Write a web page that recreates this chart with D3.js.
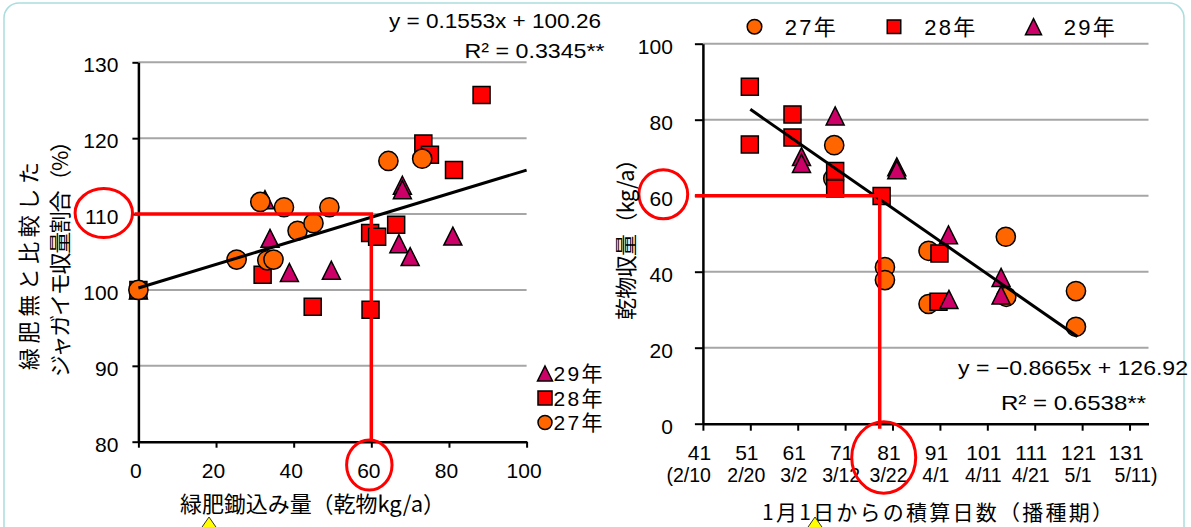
<!DOCTYPE html>
<html>
<head>
<meta charset="utf-8">
<script src="https://cdnjs.cloudflare.com/ajax/libs/d3/7.8.5/d3.min.js"></script>
<style>
body { margin: 0; background: #fff; }
svg { display: block; }
text { font-family: "Liberation Sans", "Noto Sans CJK JP", sans-serif; fill: #000; }
text.jp { font-family: "Noto Sans CJK JP", sans-serif; }
</style>
</head>
<body>
<svg id="chart" width="1191" height="527"></svg>
<script>
// left panel: 緑肥鋤込み量 vs 収量割合
var leftXTicks = [0, 20, 40, 60, 80, 100];
var leftYTicks = [80, 90, 100, 110, 120, 130];
var left27 = [[0, 100], [25.3, 104.0], [31.4, 111.6], [33.2, 103.9], [34.8, 104.0], [37.5, 110.9],
    [41.0, 107.8], [45.1, 108.8], [49.2, 110.9], [64.4, 117.0], [73.1, 117.3]];
var left28 = [[0, 100], [32.0, 102.0], [44.9, 97.8], [59.7, 107.5], [61.5, 107.0], [59.8, 97.4],
    [66.4, 108.6], [73.4, 119.3], [75.1, 117.8], [81.3, 115.8], [88.4, 125.7]];
var left29 = [[0, 100], [32.6, 111.9], [33.9, 106.8], [38.9, 102.3], [49.7, 102.6], [67.1, 106.1],
    [68.0, 113.8], [68.0, 113.2], [70.0, 104.4], [81.0, 107.1]];
var leftFit = [0.1553, 100.26];      // slope, intercept
var leftFitRange = [0, 100];
var leftGuide = [60, 110];

// right panel: 播種期 vs 乾物収量
var rightXTicks = [41, 51, 61, 71, 81, 91, 101, 111, 121, 131];
var rightDates = ["(2/10", "2/20", "3/2", "3/12", "3/22", "4/1", "4/11", "4/21", "5/1", "5/11)"];
var rightYTicks = [0, 20, 40, 60, 80, 100];
var right27 = [[68.7, 73.3], [68.5, 64.5], [79.4, 41.2], [79.4, 37.8], [88.6, 45.5], [88.6, 31.5],
    [104.9, 49.2], [105.0, 33.4], [119.7, 34.9], [119.7, 25.5]];
var right28 = [[50.9, 88.7], [50.9, 73.5], [59.9, 81.4], [59.9, 75.3], [68.9, 66.5], [68.9, 61.9],
    [78.7, 59.9], [90.9, 44.8], [90.7, 32.1]];
var right29 = [[61.8, 70.3], [61.8, 68.5], [68.9, 81.0], [81.9, 67.6], [81.9, 66.8], [92.8, 49.7],
    [92.9, 32.7], [103.9, 38.5], [103.9, 33.9]];
var rightFit = [-0.8665, 126.92];
var rightFitRange = [51, 120];
var rightGuide = [78.3, 60];

var years = ["27年", "28年", "29年"];
var colors = ["#ff6600", "#ff0000", "#cc0066"];

var svg = d3.select("#chart");

var xL = d3.scaleLinear().domain([0, 100]).range([138.4, 526.6]);
var yL = d3.scaleLinear().domain([80, 130]).range([441.7, 62.3]);
var xR = d3.scaleLinear().domain([41, 135]).range([702.9, 1148.5]);
var yR = d3.scaleLinear().domain([0, 100]).range([423.7, 43.7]);

// excel style triangle, as tall as wide
var triangle = {
    draw: function(context, size) {
        var w = Math.sqrt(size);
        context.moveTo(0, -w / 2);
        context.lineTo(w / 2, w / 2);
        context.lineTo(-w / 2, w / 2);
        context.closePath();
    }
};
var shapes = [d3.symbolCircle, d3.symbolSquare, triangle];

// panel frame
svg.append("rect")
    .attr("x", 4).attr("y", 3)
    .attr("width", 1180).attr("height", 600)
    .attr("rx", 15)
    .attr("fill", "none")
    .attr("stroke", "#aadddd")
    .attr("stroke-width", 1.5);

function grid(ys, ticks, xs) {
    svg.append("g").selectAll("line")
        .data(ticks.slice(1)).enter()
        .append("line")
        .attr("x1", xs.range()[0]).attr("x2", xs.range()[1])
        .attr("y1", function(d) { return ys(d); })
        .attr("y2", function(d) { return ys(d); })
        .attr("stroke", "#a6a6a6")
        .attr("stroke-width", 2);
}

function styleAxis(g, fontSize) {
    g.attr("font-family", null).attr("font-size", null);
    g.select(".domain").attr("stroke", "#000").attr("stroke-width", 2.5);
    g.selectAll(".tick line").attr("stroke", "#000").attr("stroke-width", 2);
    g.selectAll(".tick text").attr("font-size", fontSize).attr("fill", "#000");
}

grid(yL, leftYTicks, xL);
grid(yR, rightYTicks, xR);

svg.append("g")
    .attr("transform", "translate(" + xL.range()[0] + ",0)")
    .call(d3.axisLeft(yL).tickValues(leftYTicks).tickSize(6).tickSizeOuter(0).tickPadding(14))
    .call(styleAxis, 21)
    .selectAll(".tick text").attr("dy", "0.45em");

svg.append("g")
    .attr("transform", "translate(0," + yL.range()[0] + ")")
    .call(d3.axisBottom(xL).tickValues(leftXTicks).tickSize(6).tickSizeOuter(0).tickPadding(15))
    .call(styleAxis, 21)
    .selectAll(".tick text").attr("dx", -3);

svg.append("g")
    .attr("transform", "translate(" + xR.range()[0] + ",0)")
    .call(d3.axisLeft(yR).tickValues(rightYTicks).tickSize(8).tickSizeOuter(0).tickPadding(22))
    .call(styleAxis, 21)
    .selectAll(".tick text").attr("dy", "0.45em");

svg.append("g")
    .attr("transform", "translate(0," + yR.range()[0] + ")")
    .call(d3.axisBottom(xR).tickValues(rightXTicks).tickSize(7).tickSizeOuter(0).tickPadding(14))
    .call(styleAxis, 21)
    .selectAll(".tick text").attr("dx", -4);

// second row of the date axis
svg.append("g").selectAll("text")
    .data(rightDates).enter()
    .append("text")
    .attr("x", function(d, i) {
        var x = xR(rightXTicks[i]);
        if (i === 0) return x + 8;
        if (i === rightDates.length - 1) return x - 15;
        return x - 4;
    })
    .attr("y", 481.5)
    .attr("font-size", 19.5)
    .attr("text-anchor", function(d, i) {
        return i === 0 ? "end" : i === rightDates.length - 1 ? "start" : "middle";
    })
    .text(function(d) { return d; });

function series(data, k, size, xs, ys) {
    svg.append("g").selectAll("path")
        .data(data).enter()
        .append("path")
        .attr("transform", function(d) { return "translate(" + xs(d[0]) + "," + ys(d[1]) + ")"; })
        .attr("d", d3.symbol().type(shapes[k]).size(size[k]))
        .attr("fill", colors[k])
        .attr("stroke", "#000")
        .attr("stroke-width", 1.5);
}

var plotSize = [Math.PI * 9.6 * 9.6, 17 * 17, 18 * 18];

// left: 29 under 28 under 27
series(left29, 2, plotSize, xL, yL);
series(left28, 1, plotSize, xL, yL);
series(left27, 0, plotSize, xL, yL);
// right: 27 under 28 under 29
series(right27, 0, plotSize, xR, yR);
series(right28, 1, plotSize, xR, yR);
series(right29, 2, plotSize, xR, yR);

function fitLine(coef, range, xs, ys) {
    var line = d3.line()
        .x(function(d) { return xs(d); })
        .y(function(d) { return ys(coef[0] * d + coef[1]); });
    svg.append("path")
        .attr("d", line(range))
        .attr("fill", "none")
        .attr("stroke", "#000")
        .attr("stroke-width", 3);
}
fitLine(leftFit, leftFitRange, xL, yL);
fitLine(rightFit, rightFitRange, xR, yR);

// red guide lines
function guide(g, xs, ys, x0, yEnd) {
    svg.append("path")
        .attr("d", "M" + x0 + "," + ys(g[1]) + "H" + xs(g[0]) + "V" + yEnd)
        .attr("fill", "none")
        .attr("stroke", "#ff0000")
        .attr("stroke-width", 3.5);
}
guide(leftGuide, xL, yL, xL.range()[0] - 4, yL.range()[0] - 1);
guide(rightGuide, xR, yR, xR.range()[0] - 8, yR.range()[0] + 5);

function ring(cx, cy, rx, ry) {
    svg.append("ellipse")
        .attr("cx", cx).attr("cy", cy)
        .attr("rx", rx).attr("ry", ry)
        .attr("fill", "none")
        .attr("stroke", "#ff0000")
        .attr("stroke-width", 3);
}
ring(xL(0) - 34.6, yL(110) - 1, 28.7, 24.5);
ring(xL(60) - 2, yL.range()[0] + 23.3, 22.7, 25);
ring(xR.range()[0] - 39.6, yR(60) - 1.4, 24.4, 24.5);
ring(xR(81) - 8.8, yR.range()[0] + 33.8, 32, 35.8);

// legends
var legendLeft = svg.append("g");
[2, 1, 0].forEach(function(k, i) {
    var y = 373.5 + i * 24.5;
    legendLeft.append("path")
        .attr("transform", "translate(545," + y + ")")
        .attr("d", d3.symbol().type(shapes[k]).size([Math.PI * 7 * 7, 14 * 14, 15 * 15][k]))
        .attr("fill", colors[k])
        .attr("stroke", "#000")
        .attr("stroke-width", 1.5);
    legendLeft.append("text")
        .attr("x", 553.6).attr("y", y + 7.5)
        .attr("font-size", 21)
        .attr("textLength", 49)
        .text(years[k]);
});

var legendRight = svg.append("g");
[0, 1, 2].forEach(function(k) {
    var x = 754.5 + k * 139.5;
    legendRight.append("path")
        .attr("transform", "translate(" + x + ",26.7)")
        .attr("d", d3.symbol().type(shapes[k]).size([Math.PI * 7.3 * 7.3, 13.5 * 13.5, 16 * 16][k]))
        .attr("fill", colors[k])
        .attr("stroke", "#000")
        .attr("stroke-width", 1.5);
    legendRight.append("text")
        .attr("x", x + 30.2).attr("y", 34.5)
        .attr("font-size", 22)
        .attr("textLength", 51)
        .text(years[k]);
});

// equations
function label(x, y, str, len, size, cls) {
    return svg.append("text")
        .attr("class", cls || null)
        .attr("x", x).attr("y", y)
        .attr("font-size", size)
        .attr("textLength", len)
        .attr("lengthAdjust", "spacingAndGlyphs")
        .text(str);
}
label(389, 28.3, "y = 0.1553x + 100.26", 212, 21);
label(464.6, 58.3, "R² = 0.3345**", 140, 21);
label(958, 375, "y = −0.8665x + 126.92", 230, 21);
label(1001, 410, "R² = 0.6538**", 145, 21);

// axis titles
function title(cx, cy, str, len, rotate, size) {
    svg.append("text")
        .attr("class", "jp")
        .attr("transform", "translate(" + cx + "," + cy + ")" + (rotate ? " rotate(-90)" : ""))
        .attr("text-anchor", "middle")
        .attr("dominant-baseline", "central")
        .attr("font-size", size || 22)
        .attr("textLength", len)
        .text(str);
}
title(312.5, 502, "緑肥鋤込み量（乾物kg/a）", 265, false);
title(937.5, 511, "1月1日からの積算日数（播種期）", 351, false, 21);
title(27, 266, "緑肥無と比較した", 208, true);
title(58, 253.5, "ジャガイモ収量割合（%）", 247, true);
title(624, 234, "乾物収量（kg/a）", 172, true);

// tips of the yellow arrows below the panel
[209, 815].forEach(function(x) {
    svg.append("path")
        .attr("d", "M" + x + ",517L" + (x + 9) + ",530L" + (x - 9) + ",530Z")
        .attr("fill", "#ffff00")
        .attr("stroke", "#333")
        .attr("stroke-width", 1);
});
</script>
</body>
</html>
